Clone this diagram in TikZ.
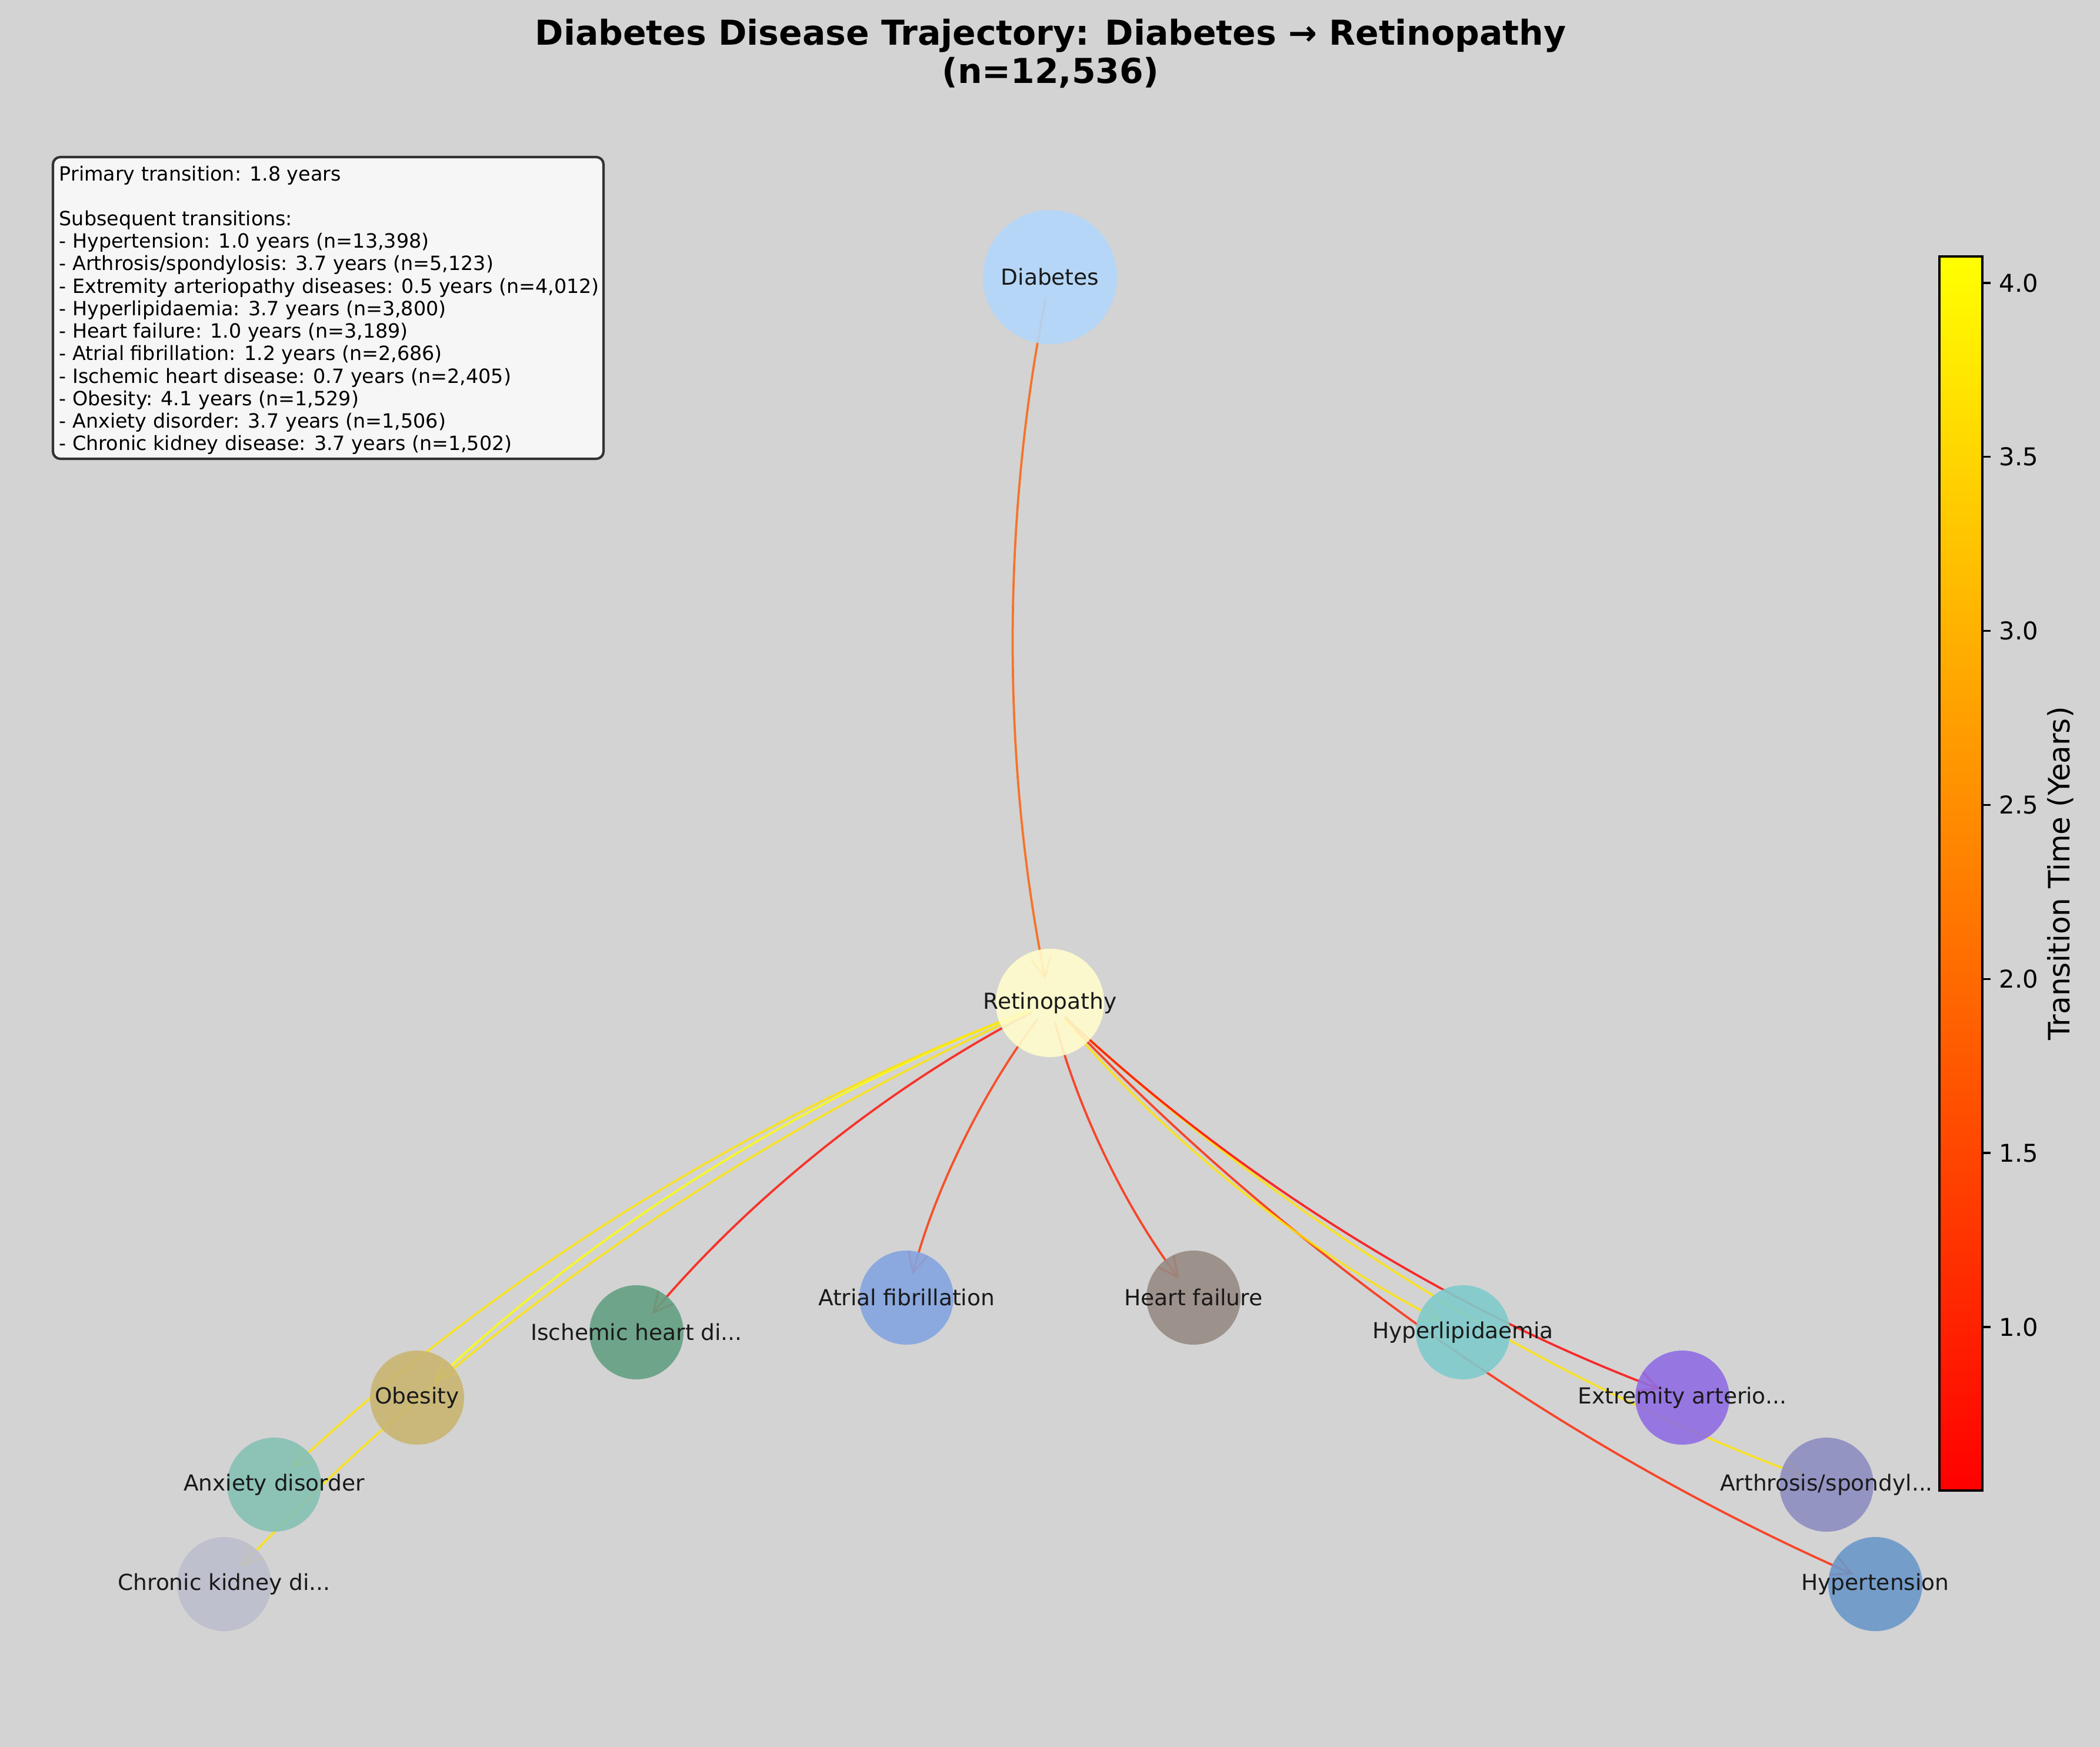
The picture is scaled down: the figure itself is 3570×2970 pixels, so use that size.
\documentclass[tikz,border=0pt]{standalone}
\usepackage{fontspec}
\setmainfont{DejaVu Sans}
\usetikzlibrary{arrows.meta}

\pgfdeclarelayer{edges}
\pgfsetlayers{edges,main}

\definecolor{figbg}{RGB}{211,211,211}
\definecolor{notebg}{RGB}{246,246,246}
% node colours
\definecolor{cDia}{RGB}{178,215,251}
\definecolor{cRet}{RGB}{255,253,204}
\definecolor{cIsch}{RGB}{100,160,131}
\definecolor{cAf}{RGB}{132,165,225}
\definecolor{cHf}{RGB}{152,138,132}
\definecolor{cHyp}{RGB}{127,203,205}
\definecolor{cOb}{RGB}{202,182,114}
\definecolor{cExt}{RGB}{144,109,227}
\definecolor{cAnx}{RGB}{134,193,181}
\definecolor{cArth}{RGB}{142,142,194}
\definecolor{cCkd}{RGB}{189,191,205}
\definecolor{cHtn}{RGB}{107,152,202}
% edge colours (autumn map)
\definecolor{e05}{RGB}{255,0,0}
\definecolor{e07}{RGB}{255,12,0}
\definecolor{e10}{RGB}{255,34,0}
\definecolor{e12}{RGB}{255,48,0}
\definecolor{e18}{RGB}{255,91,0}
\definecolor{e37}{RGB}{255,228,0}
\definecolor{e41}{RGB}{255,255,0}

\begin{document}
\begin{tikzpicture}[x=0.24pt, y=-0.24pt,
  dis/.style={circle, draw=none, fill opacity=0.9, minimum size=38.4pt, inner sep=0pt},
  dlabel/.style={font=\fontsize{9}{11}\selectfont, text=black!90, text opacity=1},
  trans/.style={line width=0.9pt, draw opacity=0.8,
    -{Straight Barb[length=8pt,width=8pt]},
    shorten <=8.4pt, shorten >=9.6pt, bend right=11.3, looseness=0.87}]

\useasboundingbox (0,0) rectangle (3570,2970);

% disease nodes
\node[dis, fill=cDia, minimum size=54.7pt, label={[dlabel]center:Diabetes}] (dia) at (1785,471) {};
\node[dis, fill=cRet, minimum size=44.2pt, label={[dlabel]center:Retinopathy}] (ret) at (1785,1705) {};

\foreach \name/\x/\y/\col/\lab in {
    isch/1082/2265/cIsch/{Ischemic heart di...},
    af/1541/2206/cAf/{Atrial fibrillation},
    hf/2029/2206/cHf/{Heart failure},
    hyp/2487/2265/cHyp/{Hyperlipidaemia},
    ob/709/2376/cOb/{Obesity},
    ext/2860/2376/cExt/{Extremity arterio...},
    anx/466/2524/cAnx/{Anxiety disorder},
    arth/3105/2524/cArth/{Arthrosis/spondyl...},
    ckd/381/2693/cCkd/{Chronic kidney di...},
    htn/3188/2693/cHtn/{Hypertension}}{
    \node[dis, fill=\col, label={[dlabel]center:\lab}] (\name) at (\x,\y) {};
}

% transitions, under the nodes
\begin{pgfonlayer}{edges}
\fill[figbg] (0,0) rectangle (3570,2970);
\draw[trans, draw=e18] (dia.center) to (ret.center);
\foreach \tgt/\col in {htn/e10, arth/e37, ext/e05, hyp/e37, hf/e10, af/e12, isch/e07, ob/e41, anx/e37, ckd/e37}{
    \draw[trans, draw=\col] (ret.center) to (\tgt.center);
}
\end{pgfonlayer}

% title
\node[font=\fontsize{14}{15.7}\selectfont\bfseries, align=center, anchor=north, inner sep=0pt] (title) at (1786,31)
  {Diabetes Disease Trajectory: Diabetes → Retinopathy\\(n=12,536)};

% summary box
\draw[rounded corners=3pt, fill=notebg, draw=black!80, line width=1pt] (90,267) rectangle (1026,780);
\node[anchor=north west, inner sep=0pt, align=left, font=\fontsize{8}{9.17}\selectfont] (notes) at (100,281) {
Primary transition: 1.8 years\\
\mbox{}\\
Subsequent transitions:\\
- Hypertension: 1.0 years (n=13,398)\\
- Arthrosis/spondylosis: 3.7 years (n=5,123)\\
- Extremity arteriopathy diseases: 0.5 years (n=4,012)\\
- Hyperlipidaemia: 3.7 years (n=3,800)\\
- Heart failure: 1.0 years (n=3,189)\\
- Atrial fibrillation: 1.2 years (n=2,686)\\
- Ischemic heart disease: 0.7 years (n=2,405)\\
- Obesity: 4.1 years (n=1,529)\\
- Anxiety disorder: 3.7 years (n=1,506)\\
- Chronic kidney disease: 3.7 years (n=1,502)};

% colour bar
\shade[bottom color=red, top color=yellow] (3297,436) rectangle (3370,2534);
\draw[line width=0.8pt] (3297,436) rectangle (3370,2534);
\foreach \v in {1.0,1.5,2.0,2.5,3.0,3.5,4.0}{
    \pgfmathsetmacro\ty{2256-(\v-1)*591.7}
    \draw[line width=0.8pt] (3370,\ty) -- (3384,\ty);
    \node[anchor=west, inner sep=0pt, font=\fontsize{10}{12}\selectfont] at (3398,\ty) {\v};
}
\node[rotate=90, font=\fontsize{12}{14}\selectfont] (cblabel) at (3503,1485) {Transition Time (Years)};

\end{tikzpicture}
\end{document}
